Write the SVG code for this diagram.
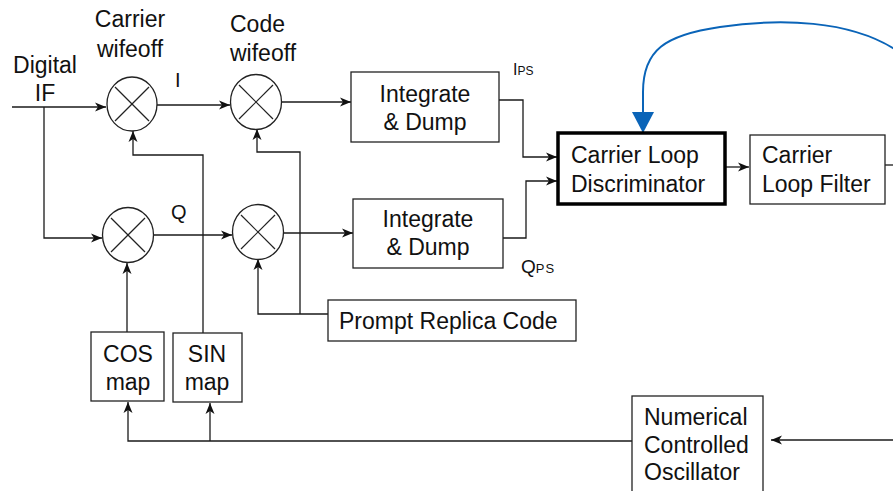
<svg xmlns="http://www.w3.org/2000/svg" width="893" height="491" viewBox="0 0 893 491">
  <defs>
    <marker id="arr" markerUnits="userSpaceOnUse" markerWidth="12" markerHeight="10" refX="11" refY="5" orient="auto">
      <path d="M0,0.5 L11,5 L0,9.5 L3,5 Z" fill="#111"/>
    </marker>
    <marker id="arrBlue" markerUnits="userSpaceOnUse" markerWidth="24" markerHeight="24" refX="21" refY="11" orient="auto">
      <path d="M0,0 L21,11 L0,22 Z" fill="#0a64b8"/>
    </marker>
    <style>
      .box { fill: #fff; stroke: #222; stroke-width: 1.3; }
      .mix { fill: #fff; stroke: #222; stroke-width: 1.3; }
      .cross { stroke: #222; stroke-width: 1.2; }
      .ln { fill: none; stroke: #1a1a1a; stroke-width: 1.3; }
      .t { font-family: "Liberation Sans", Arial, sans-serif; font-size: 23px; fill: #111; }
      .c { text-anchor: middle; }
    </style>
  </defs>

  <!-- connectors -->
  <g id="connectors">
    <path class="ln" d="M12,107 H106" marker-end="url(#arr)"/>
    <path class="ln" d="M44,107 V238 H102" marker-end="url(#arr)"/>
    <path class="ln" d="M157,105 H230" marker-end="url(#arr)"/>
    <path class="ln" d="M153,235 H232" marker-end="url(#arr)"/>
    <path class="ln" d="M282,102 H351" marker-end="url(#arr)"/>
    <path class="ln" d="M284,233 H353" marker-end="url(#arr)"/>
    <path class="ln" d="M203,333 V155 H133 V131" marker-end="url(#arr)"/>
    <path class="ln" d="M328,314 H258 V259" marker-end="url(#arr)"/>
    <path class="ln" d="M300,314 V152 H257 V129" marker-end="url(#arr)"/>
    <path class="ln" d="M127,332 V263" marker-end="url(#arr)"/>
    <path class="ln" d="M499,100 H523 V157 H557" marker-end="url(#arr)"/>
    <path class="ln" d="M503,238 H526 V181 H557" marker-end="url(#arr)"/>
    <path class="ln" d="M725,167 H749" marker-end="url(#arr)"/>
    <path class="ln" d="M885,165 H893"/>
    <path class="ln" d="M893,440 H771" marker-end="url(#arr)"/>
    <path class="ln" d="M632,441 H128 V402" marker-end="url(#arr)"/>
    <path class="ln" d="M210,441 V403" marker-end="url(#arr)"/>
    <path d="M896,50 C850,20 780,18 720,27 C665,35 643,50 643,92 L643,133" fill="none" stroke="#0a64b8" stroke-width="2" marker-end="url(#arrBlue)"/>
  </g>

  <!-- free labels -->
  <g id="labels">
    <text class="t c" x="45" y="73">Digital</text>
    <text class="t c" x="45" y="101">IF</text>
    <text class="t c" x="130" y="27">Carrier</text>
    <text class="t c" x="130" y="57">wifeoff</text>
    <text class="t" x="230" y="32">Code</text>
    <text class="t" x="230" y="61">wifeoff</text>
    <text class="t" x="175" y="87" style="font-size:20px">I</text>
    <text class="t" x="171" y="219" style="font-size:20px">Q</text>
    <text class="t" x="513" y="75" style="font-size:16px">I<tspan style="font-size:12px">PS</tspan></text>
    <text class="t" x="521" y="273" style="font-size:19px">Q<tspan style="font-size:13px" letter-spacing="1">PS</tspan></text>
  </g>

  <!-- mixers -->
  <g id="mixer-carrier-i">
    <ellipse class="mix" cx="132" cy="104" rx="25" ry="27"/>
    <line class="cross" x1="115" y1="87" x2="149" y2="121"/>
    <line class="cross" x1="149" y1="87" x2="115" y2="121"/>
  </g>
  <g id="mixer-code-i">
    <ellipse class="mix" cx="256" cy="102" rx="25.5" ry="27.5"/>
    <line class="cross" x1="239" y1="85" x2="273" y2="119"/>
    <line class="cross" x1="273" y1="85" x2="239" y2="119"/>
  </g>
  <g id="mixer-carrier-q">
    <ellipse class="mix" cx="128" cy="235" rx="25.5" ry="27.5"/>
    <line class="cross" x1="111" y1="218" x2="145" y2="252"/>
    <line class="cross" x1="145" y1="218" x2="111" y2="252"/>
  </g>
  <g id="mixer-code-q">
    <ellipse class="mix" cx="258" cy="232" rx="25.5" ry="27.5"/>
    <line class="cross" x1="241" y1="215" x2="275" y2="249"/>
    <line class="cross" x1="275" y1="215" x2="241" y2="249"/>
  </g>

  <!-- blocks -->
  <g id="integrate-dump-i">
    <rect class="box" x="351" y="72" width="148" height="70"/>
    <text class="t c" x="425" y="102">Integrate</text>
    <text class="t c" x="425" y="130">&amp; Dump</text>
  </g>
  <g id="integrate-dump-q">
    <rect class="box" x="353" y="199" width="150" height="69"/>
    <text class="t c" x="428" y="227">Integrate</text>
    <text class="t c" x="428" y="255">&amp; Dump</text>
  </g>
  <g id="carrier-loop-discriminator">
    <rect x="558" y="133" width="167" height="71" fill="#fff" stroke="#000" stroke-width="3.5"/>
    <text class="t" x="571" y="163">Carrier Loop</text>
    <text class="t" x="571" y="192">Discriminator</text>
  </g>
  <g id="carrier-loop-filter">
    <rect class="box" x="750" y="135" width="135" height="69"/>
    <text class="t" x="762" y="163">Carrier</text>
    <text class="t" x="762" y="192">Loop Filter</text>
  </g>
  <g id="prompt-replica-code">
    <rect class="box" x="328" y="300" width="248" height="41"/>
    <text class="t" x="339" y="329">Prompt Replica Code</text>
  </g>
  <g id="cos-map">
    <rect class="box" x="91" y="332" width="73" height="69"/>
    <text class="t c" x="128" y="362">COS</text>
    <text class="t c" x="128" y="390">map</text>
  </g>
  <g id="sin-map">
    <rect class="box" x="173" y="333" width="69" height="69"/>
    <text class="t c" x="207" y="362">SIN</text>
    <text class="t c" x="207" y="390">map</text>
  </g>
  <g id="nco">
    <rect class="box" x="632" y="396" width="131" height="100"/>
    <text class="t" x="644" y="425">Numerical</text>
    <text class="t" x="644" y="453">Controlled</text>
    <text class="t" x="644" y="480">Oscillator</text>
  </g>
</svg>
